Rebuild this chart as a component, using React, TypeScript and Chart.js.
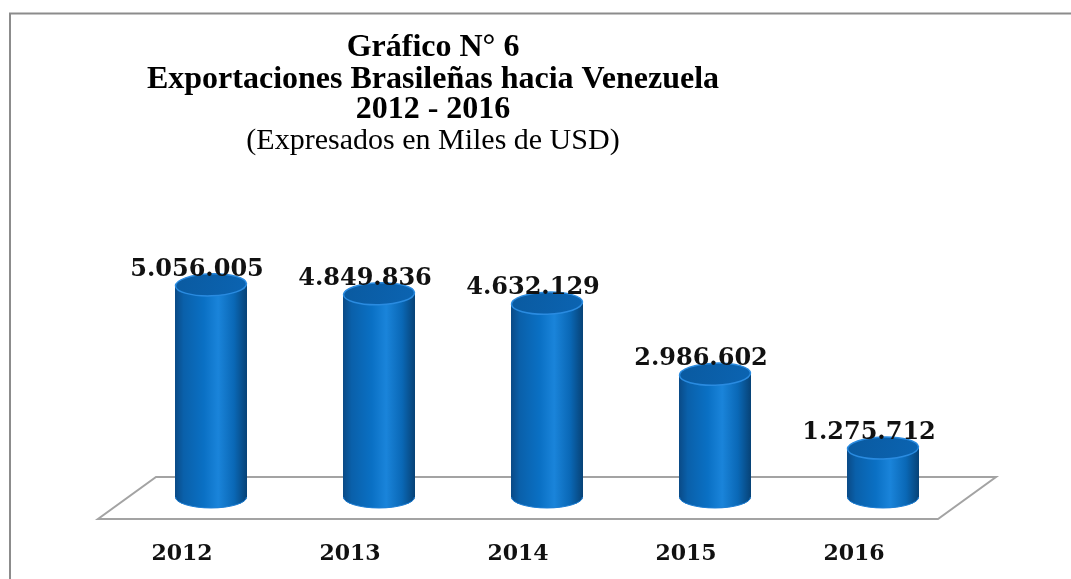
import React, { useEffect, useRef } from "react";
import { Chart, registerables } from "chart.js";

Chart.register(...registerables);

const years: string[] = ["2012", "2013", "2014", "2015", "2016"];
const exportsValues: number[] = [5056005, 4849836, 4632129, 2986602, 1275712];
const titleLines: string[] = [
  "Gráfico N° 6",
  "Exportaciones Brasileñas hacia Venezuela",
  "2012 - 2016",
];
const subtitleLine = "(Expresados en Miles de USD)";

const fmt = (v: number) => String(v).replace(/\B(?=(\d{3})+(?!\d))/g, ".");

const cylinderPlugin = {
  id: "cylinders",
  afterDatasetsDraw(chart: any) {
    const ctx: CanvasRenderingContext2D = chart.ctx;
    const area = chart.chartArea;
    const yScale = chart.scales.y;
    const base = yScale.getPixelForValue(0);
    const W = chart.width;
    const H = chart.height;
    ctx.save();

    // outer frame (cropped box)
    ctx.strokeStyle = "#8c8c8c";
    ctx.lineWidth = 2;
    ctx.beginPath();
    ctx.moveTo(10, H + 5);
    ctx.lineTo(10, 13.5);
    ctx.lineTo(W + 5, 13.5);
    ctx.stroke();

    // floor
    const dx = 29;
    const frontY = base + 16;
    const backY = base - 26;
    ctx.beginPath();
    ctx.moveTo(area.left - dx, frontY);
    ctx.lineTo(area.right - dx, frontY);
    ctx.lineTo(area.right + dx, backY);
    ctx.lineTo(area.left + dx, backY);
    ctx.closePath();
    ctx.fillStyle = "#ffffff";
    ctx.fill();
    ctx.strokeStyle = "#a3a3a3";
    ctx.lineWidth = 2;
    ctx.stroke();

    const meta = chart.getDatasetMeta(0);
    const ry = 11;
    const bottomC = base - 6;
    meta.data.forEach((el: any, i: number) => {
      const x = el.x;
      const topY = el.y;
      const rx = el.width / 2;

      // body
      const g = ctx.createLinearGradient(x - rx, 0, x + rx, 0);
      g.addColorStop(0, "#0a4a86");
      g.addColorStop(0.12, "#0a60aa");
      g.addColorStop(0.4, "#0a70c4");
      g.addColorStop(0.6, "#1a84da");
      g.addColorStop(0.82, "#0a68b6");
      g.addColorStop(1, "#074276");
      ctx.beginPath();
      ctx.moveTo(x - rx, topY);
      ctx.lineTo(x - rx, bottomC);
      ctx.ellipse(x, bottomC, rx, ry, 0, Math.PI, 0, true);
      ctx.lineTo(x + rx, topY);
      ctx.closePath();
      ctx.fillStyle = g;
      ctx.fill();
      ctx.strokeStyle = "#1f7fd4";
      ctx.lineWidth = 1;
      ctx.beginPath();
      ctx.ellipse(x, bottomC, rx - 0.5, ry, 0, Math.PI, 0, true);
      ctx.stroke();

      // top
      const tg = ctx.createLinearGradient(x - rx, topY - ry, x + rx, topY + ry);
      tg.addColorStop(0, "#0a5aa0");
      tg.addColorStop(1, "#0b64b2");
      ctx.beginPath();
      ctx.ellipse(x, topY, rx - 0.5, ry, -0.03, 0, Math.PI * 2);
      ctx.fillStyle = tg;
      ctx.fill();
      ctx.strokeStyle = "#2a8be0";
      ctx.lineWidth = 1.5;
      ctx.stroke();

      // value label
      ctx.fillStyle = "#111111";
      ctx.font = 'bold 24px "DejaVu Serif"';
      ctx.textAlign = "center";
      ctx.textBaseline = "alphabetic";
      ctx.fillText(fmt(exportsValues[i]), x - 14, topY - 9);

      // category label
      ctx.font = 'bold 22px "DejaVu Serif"';
      ctx.fillText(years[i], x - dx, 560);
    });

    // title
    const cx = 433;
    ctx.fillStyle = "#000000";
    ctx.textAlign = "center";
    ctx.font = 'bold 32px "Liberation Serif"';
    const baselines = [56, 88, 118];
    titleLines.forEach((t, i) => ctx.fillText(t, cx, baselines[i]));
    ctx.font = '30px "Liberation Serif"';
    ctx.fillText(subtitleLine, cx, 149);

    ctx.restore();
  },
};

export default function App() {
  const ref = useRef<HTMLCanvasElement | null>(null);
  useEffect(() => {
    if (!ref.current) return;
    const chart = new Chart(ref.current, {
      type: "bar",
      data: {
        labels: years,
        datasets: [
          {
            data: exportsValues,
            backgroundColor: "rgba(0,0,0,0)",
            borderWidth: 0,
            barPercentage: 72 / 168,
            categoryPercentage: 1,
          },
        ],
      },
      options: {
        animation: false,
        responsive: false,
        layout: { padding: { left: 127, right: 104, top: 201, bottom: 76 } },
        scales: {
          x: { display: false },
          y: { display: false, min: 0, max: 7000000 },
        },
        plugins: {
          legend: { display: false },
          tooltip: { enabled: false },
          title: { display: false },
        },
      },
      plugins: [cylinderPlugin],
    });
    return () => chart.destroy();
  }, []);
  return (
    <div
      style={{
        position: "fixed",
        left: 0,
        top: 0,
        width: 1071,
        height: 579,
        background: "#ffffff",
      }}
    >
      <canvas ref={ref} width={1071} height={579} style={{ display: "block" }} />
    </div>
  );
}
